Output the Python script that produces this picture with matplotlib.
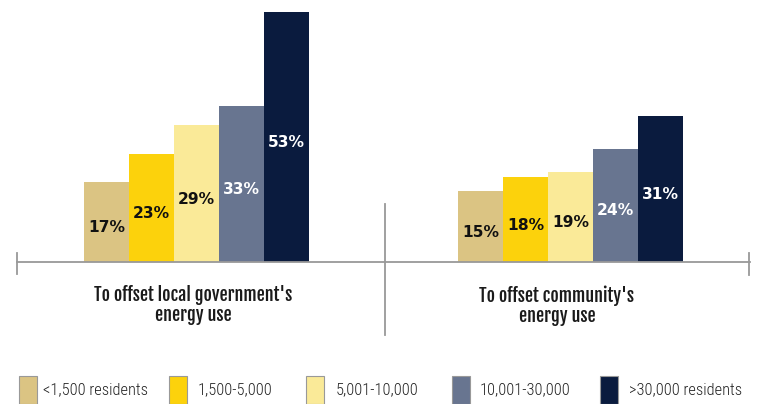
import matplotlib.pyplot as plt
from matplotlib.patches import Rectangle
from matplotlib.lines import Line2D

# survey data: share of local governments by population size
sizes = ["<1,500 residents", "1,500-5,000", "5,001-10,000", "10,001-30,000", ">30,000 residents"]
goals = ["To offset local government's\nenergy use", "To offset community's\nenergy use"]
local_gov = [17, 23, 29, 33, 53]
community = [15, 18, 19, 24, 31]

colors = ["#DBC483", "#FCD20C", "#FAEA98", "#687590", "#0A1B3E"]
label_colors = ["#111111", "#111111", "#111111", "white", "white"]

head_font = ["Fjalla One", "DejaVu Sans"]
leg_font = ["Roboto Condensed", "DejaVu Sans"]

fig = plt.figure(figsize=(7.6, 4.04), dpi=100)
W, H = 760, 404
ax = fig.add_axes([17 / W, 142 / H, 733 / W, 250 / H])
ax.set_xlim(0, 16.29)
ax.set_ylim(0, 53)
ax.axis("off")

starts = [1.49, 9.8]
for start, vals in zip(starts, [local_gov, community]):
    for i, v in enumerate(vals):
        x = start + i + 0.5
        ax.bar(x, v, width=1.0, color=colors[i], linewidth=0)
        ax.annotate(f"{v}%", (x, v / 2), xytext=(0, -4), textcoords="offset points",
                    ha="center", va="center", fontsize=11.2, fontweight="bold",
                    color=label_colors[i])

# baseline, end ticks and divider
line_c = "#999999"
ax.axhline(0, color=line_c, lw=1.3, clip_on=False)
ax.add_line(Line2D([0, 0], [-2.6, 1.9], color=line_c, lw=1.3, clip_on=False))
ax.add_line(Line2D([16.27, 16.27], [-2.7, 1.9], color=line_c, lw=1.3, clip_on=False))
ax.add_line(Line2D([8.18, 8.18], [12.4, -15.5], color=line_c, lw=1.3, clip_on=False))

# group titles under the axis
for x, g in zip([3.91, 12.0], goals):
    ax.text(x, -4.9, g, ha="center", va="top", fontsize=13,
            family=head_font, color="#1a1a1a", linespacing=1.02)

# legend drawn along the bottom
patch_x = [19, 169, 306, 452, 600]
text_x = [43, 198, 336, 480, 629]
for px, tx, c, s in zip(patch_x, text_x, colors, sizes):
    fig.add_artist(Rectangle((px / W, 0), 18 / W, 28 / H, transform=fig.transFigure,
                             facecolor=c, edgecolor="#999999", lw=0.8))
    fig.text(tx / W, 14 / H, s, ha="left", va="center", fontsize=11.8,
             fontweight="light", family=leg_font, color="#222222")

fig.savefig("out.png", dpi=100)
